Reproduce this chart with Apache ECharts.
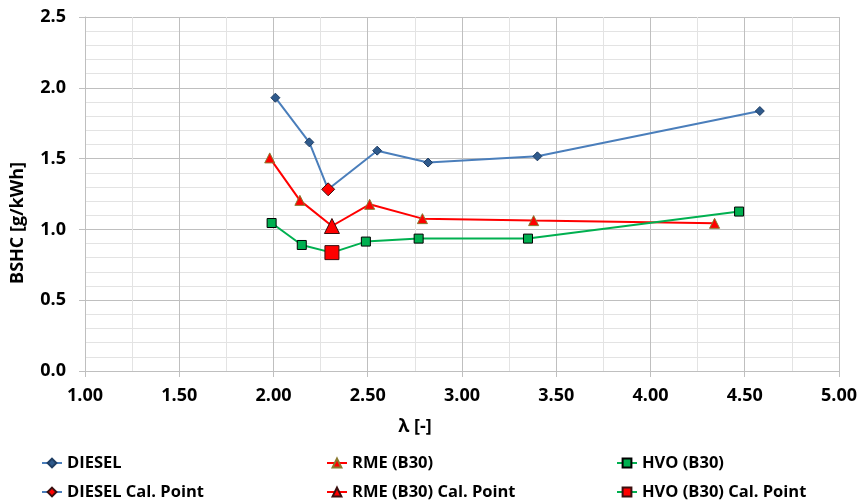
<!DOCTYPE html>
<html>
<head>
<meta charset="utf-8">
<script src="https://cdn.jsdelivr.net/npm/echarts@6/dist/echarts.min.js"></script>
<style>html,body{margin:0;padding:0;background:#fff}#c{width:860px;height:504px}</style>
</head>
<body>
<div id="c"></div>
<script>
// Data
var lambdaDiesel = [2.01, 2.19, 2.29, 2.55, 2.82, 3.40, 4.58];
var bshcDiesel   = [1.93, 1.615, 1.283, 1.556, 1.472, 1.516, 1.836];
var lambdaRme    = [1.98, 2.14, 2.31, 2.51, 2.79, 3.38, 4.34];
var bshcRme      = [1.505, 1.205, 1.024, 1.177, 1.076, 1.062, 1.043];
var lambdaHvo    = [1.99, 2.15, 2.31, 2.49, 2.77, 3.35, 4.47];
var bshcHvo      = [1.045, 0.89, 0.836, 0.914, 0.935, 0.935, 1.126];
var calDiesel = [2.29, 1.283];
var calRme    = [2.31, 1.024];
var calHvo    = [2.31, 0.836];
var seriesNames = ['DIESEL', 'RME (B30)', 'HVO (B30)', 'DIESEL Cal. Point', 'RME (B30) Cal. Point', 'HVO (B30) Cal. Point'];
var xTitle = 'λ [-]';
var yTitle = 'BSHC [g/kWh]';

function pairs(xs, ys) { return xs.map(function (x, i) { return [x, ys[i]]; }); }

var FONT = '"Open Sans"';
var blueLine = '#4A7EBB', redLine = '#FF0000', greenLine = '#00B050';
var chart = echarts.init(document.getElementById('c'));
var legendText = { fontFamily: FONT, fontWeight: 'bold', fontSize: 16.5, lineHeight: 20, color: '#000' };
function legendAt(left, names) {
  return { data: names, orient: 'vertical', left: left, top: 453, itemGap: 9, itemWidth: 20, itemHeight: 11, textStyle: legendText, padding: 0 };
}
chart.setOption({
  animation: false,
  backgroundColor: '#fff',
  grid: { left: 85, right: 21, top: 17, bottom: 133 },
  xAxis: {
    type: 'value', min: 1, max: 5, interval: 0.5,
    axisLine: { lineStyle: { color: '#BFBFBF', width: 1 } },
    axisTick: { show: true, length: 6, lineStyle: { color: '#BFBFBF' } },
    axisLabel: { fontFamily: FONT, fontWeight: 'bold', fontSize: 18, color: '#000', margin: 16,
      formatter: function (v) { return v.toFixed(2); } },
    splitLine: { show: true, lineStyle: { color: '#BFBFBF', width: 1 } },
    minorTick: { show: false, splitNumber: 2 },
    minorSplitLine: { show: true, lineStyle: { color: '#E3E3E3', width: 1 } }
  },
  yAxis: {
    type: 'value', min: 0, max: 2.5, interval: 0.5,
    axisLine: { show: true, lineStyle: { color: '#BFBFBF', width: 1 } },
    axisTick: { show: true, length: 6, lineStyle: { color: '#BFBFBF' } },
    axisLabel: { fontFamily: FONT, fontWeight: 'bold', fontSize: 18, color: '#000', margin: 19,
      formatter: function (v) { return v.toFixed(1); } },
    splitLine: { show: true, lineStyle: { color: '#BFBFBF', width: 1 } },
    minorTick: { show: false, splitNumber: 5 },
    minorSplitLine: { show: true, lineStyle: { color: '#E3E3E3', width: 1 } }
  },
  legend: [
    legendAt(41, [seriesNames[0], seriesNames[3]]),
    legendAt(326, [seriesNames[1], seriesNames[4]]),
    legendAt(616, [seriesNames[2], seriesNames[5]])
  ],
  graphic: [
    { type: 'text', x: 415, y: 427, style: { text: xTitle, font: 'bold 18px ' + FONT, fill: '#000', align: 'center', verticalAlign: 'middle' } },
    { type: 'text', x: 18, y: 223, rotation: Math.PI / 2, style: { text: yTitle, font: 'bold 18px ' + FONT, fill: '#000', align: 'center', verticalAlign: 'middle' } }
  ],
  series: [
    { name: seriesNames[0], type: 'line', data: pairs(lambdaDiesel, bshcDiesel), symbol: 'diamond', symbolSize: 9,
      lineStyle: { color: blueLine, width: 2 }, itemStyle: { color: '#2F5A8C', borderColor: '#1F3D63', borderWidth: 1 }, z: 2 },
    { name: seriesNames[1], type: 'line', data: pairs(lambdaRme, bshcRme), symbol: 'triangle', symbolSize: 10,
      lineStyle: { color: redLine, width: 2 }, itemStyle: { color: '#FF0000', borderColor: '#8A7A30', borderWidth: 1 }, z: 2 },
    { name: seriesNames[2], type: 'line', data: pairs(lambdaHvo, bshcHvo), symbol: 'rect', symbolSize: 9,
      lineStyle: { color: greenLine, width: 2 }, itemStyle: { color: '#00B050', borderColor: '#000', borderWidth: 1 }, z: 2 },
    { name: seriesNames[3], type: 'line', data: [calDiesel], symbol: 'diamond', symbolSize: 13,
      lineStyle: { color: blueLine, width: 2 }, itemStyle: { color: '#FF0000', borderColor: '#3a1010', borderWidth: 1 }, z: 5 },
    { name: seriesNames[4], type: 'line', data: [calRme], symbol: 'triangle', symbolSize: 15,
      lineStyle: { color: redLine, width: 2 }, itemStyle: { color: '#FF0000', borderColor: '#3a1010', borderWidth: 1 }, z: 5 },
    { name: seriesNames[5], type: 'line', data: [calHvo], symbol: 'rect', symbolSize: 14,
      lineStyle: { color: greenLine, width: 2 }, itemStyle: { color: '#FF0000', borderColor: '#3a1010', borderWidth: 1 }, z: 5 }
  ]
});
</script>
</body>
</html>
